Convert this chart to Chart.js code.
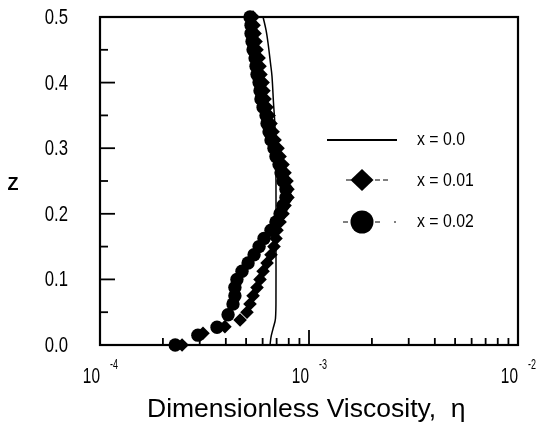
<!DOCTYPE html>
<html>
<head>
<meta charset="utf-8">
<script src="https://cdn.jsdelivr.net/npm/chart.js@4/dist/chart.umd.min.js"></script>
<style>
html,body{margin:0;padding:0;background:#fff;}
canvas{display:block;}
</style>
</head>
<body>
<canvas id="c" width="536" height="429"></canvas>
<script>
// ---- data ----
const seriesLabels = ["x = 0.0", "x = 0.01", "x = 0.02"];
const yTickLabels = ["0.0", "0.1", "0.2", "0.3", "0.4", "0.5"];
const xTickExponents = ["-4", "-3", "-2"];

// x = 0.0 : solid line
const z00 = [0.5, 0.48, 0.46, 0.43, 0.41, 0.37, 0.33, 0.25, 0.15, 0.08, 0.04, 0.025, 0.012, 0.0];
const eta00 = [6.03e-4, 6.23e-4, 6.37e-4, 6.54e-4, 6.65e-4, 6.76e-4, 6.88e-4, 6.95e-4, 6.95e-4, 6.95e-4, 6.91e-4, 6.73e-4, 6.58e-4, 6.51e-4];

// x = 0.01 : diamonds
const z01 = [0.5, 0.4875, 0.475, 0.4625, 0.45, 0.4375, 0.425, 0.4125, 0.4, 0.3875, 0.375, 0.3625, 0.35, 0.3375, 0.325, 0.3125, 0.3, 0.2875, 0.275, 0.2625, 0.25, 0.2375, 0.225, 0.2125, 0.2, 0.1875, 0.175, 0.1625, 0.15, 0.1375, 0.125, 0.1125, 0.1, 0.0875, 0.075, 0.0625, 0.05, 0.038, 0.028, 0.018, 0.0];
const eta01 = [5.40e-4, 5.46e-4, 5.52e-4, 5.58e-4, 5.64e-4, 5.77e-4, 5.83e-4, 5.89e-4, 6.03e-4, 6.09e-4, 6.16e-4, 6.30e-4, 6.44e-4, 6.58e-4, 6.73e-4, 6.88e-4, 7.11e-4, 7.27e-4, 7.51e-4, 7.68e-4, 7.85e-4, 7.93e-4, 7.93e-4, 7.68e-4, 7.51e-4, 7.27e-4, 7.03e-4, 6.95e-4, 6.80e-4, 6.58e-4, 6.30e-4, 6.03e-4, 5.83e-4, 5.64e-4, 5.40e-4, 5.22e-4, 5.05e-4, 4.68e-4, 3.96e-4, 3.11e-4, 2.47e-4];

// x = 0.02 : circles
const z02 = [0.5, 0.4875, 0.475, 0.4625, 0.45, 0.4375, 0.425, 0.4125, 0.4, 0.3875, 0.375, 0.3625, 0.35, 0.3375, 0.325, 0.3125, 0.3, 0.2875, 0.275, 0.2625, 0.25, 0.2375, 0.225, 0.2125, 0.2, 0.1875, 0.175, 0.1625, 0.15, 0.1375, 0.125, 0.1125, 0.1, 0.0875, 0.075, 0.0625, 0.046, 0.027, 0.015, 0.0];
const eta02 = [5.22e-4, 5.28e-4, 5.28e-4, 5.34e-4, 5.40e-4, 5.52e-4, 5.58e-4, 5.64e-4, 5.77e-4, 5.83e-4, 5.89e-4, 6.03e-4, 6.23e-4, 6.30e-4, 6.44e-4, 6.58e-4, 6.80e-4, 6.95e-4, 7.19e-4, 7.35e-4, 7.51e-4, 7.76e-4, 7.76e-4, 7.51e-4, 7.27e-4, 6.95e-4, 6.58e-4, 6.09e-4, 5.77e-4, 5.46e-4, 5.11e-4, 4.78e-4, 4.52e-4, 4.42e-4, 4.42e-4, 4.33e-4, 4.10e-4, 3.63e-4, 2.94e-4, 2.29e-4];

const xTitle = "Dimensionless Viscosity,  η";
const yTitle = "Z";

// ---- build ----
const toPts = (xs, ys) => xs.map((v, i) => ({x: v, y: ys[i]}));

function textScaled(ctx, txt, x, y, font, align, sx) {
  ctx.save();
  ctx.font = font;
  ctx.textBaseline = 'middle';
  ctx.textAlign = align;
  ctx.translate(x, y);
  ctx.scale(sx, 1);
  ctx.fillText(txt, 0, 0);
  ctx.restore();
}

const decor = {
  id: 'decor',
  afterDatasetsDraw(chart) {
    const ctx = chart.ctx;
    const xs = chart.scales.x, ys = chart.scales.y;
    const a = chart.chartArea;
    ctx.save();
    ctx.strokeStyle = '#000';
    ctx.fillStyle = '#000';
    // frame
    ctx.lineWidth = 2.2;
    ctx.strokeRect(a.left, a.top, a.right - a.left, a.bottom - a.top);
    // y ticks (inward)
    ctx.lineWidth = 1.8;
    for (let i = 0; i <= 10; i++) {
      const v = i * 0.05;
      const py = ys.getPixelForValue(v);
      const len = (i % 2 === 0) ? 15 : 8;
      ctx.beginPath(); ctx.moveTo(a.left, py); ctx.lineTo(a.left + len, py); ctx.stroke();
    }
    // x ticks (inward)
    for (let d = -4; d <= -2; d++) {
      for (let m = 1; m <= 9; m++) {
        if (d === -2 && m > 1) break;
        const v = m * Math.pow(10, d);
        const px = xs.getPixelForValue(v);
        const len = (m === 1) ? 15 : 7;
        ctx.beginPath(); ctx.moveTo(px, a.bottom); ctx.lineTo(px, a.bottom - len); ctx.stroke();
      }
    }
    // y tick labels
    yTickLabels.forEach((t) => {
      const py = ys.getPixelForValue(parseFloat(t));
      textScaled(ctx, t, 68, py + 1, '22px "Liberation Sans", Arial, sans-serif', 'right', 0.76);
    });
    // x tick labels: 10^n
    xTickExponents.forEach((e) => {
      const px = xs.getPixelForValue(Math.pow(10, parseInt(e, 10)));
      textScaled(ctx, '10', px, 377, '22px "Liberation Sans", Arial, sans-serif', 'right', 0.7);
      textScaled(ctx, e, px + 10, 365, '15px "Liberation Sans", Arial, sans-serif', 'left', 0.6);
    });
    // axis titles
    ctx.font = 'bold 18px "Liberation Sans", Arial, sans-serif';
    ctx.textAlign = 'center'; ctx.textBaseline = 'middle';
    ctx.fillText(yTitle, 13, 185);
    ctx.font = '26.5px "Liberation Sans", Arial, sans-serif';
    ctx.textAlign = 'left'; ctx.textBaseline = 'alphabetic';
    ctx.fillText(xTitle, 147, 417);

    // legend
    const lf = '18px "Liberation Sans", Arial, sans-serif';
    // x = 0.0
    ctx.lineWidth = 2;
    ctx.beginPath(); ctx.moveTo(327, 140); ctx.lineTo(397, 140); ctx.stroke();
    textScaled(ctx, seriesLabels[0], 417, 140, lf, 'left', 0.88);
    // x = 0.01
    ctx.lineWidth = 1;
    ctx.beginPath(); ctx.moveTo(346, 180); ctx.lineTo(351, 180); ctx.stroke();
    ctx.beginPath(); ctx.moveTo(375, 180); ctx.lineTo(380, 180); ctx.moveTo(383, 180); ctx.lineTo(388, 180); ctx.stroke();
    ctx.beginPath();
    ctx.moveTo(362, 169); ctx.lineTo(373.5, 180); ctx.lineTo(362, 191); ctx.lineTo(350.5, 180); ctx.closePath(); ctx.fill();
    textScaled(ctx, seriesLabels[1], 417, 181, lf, 'left', 0.88);
    // x = 0.02
    ctx.beginPath(); ctx.moveTo(343, 222); ctx.lineTo(348, 222); ctx.stroke();
    ctx.beginPath(); ctx.moveTo(375, 222); ctx.lineTo(380, 222); ctx.stroke();
    ctx.beginPath(); ctx.moveTo(394, 222); ctx.lineTo(396, 222); ctx.stroke();
    ctx.beginPath(); ctx.arc(362, 222, 11.5, 0, Math.PI * 2); ctx.fill();
    textScaled(ctx, seriesLabels[2], 417, 222, lf, 'left', 0.88);
    ctx.restore();
  }
};

new Chart(document.getElementById('c'), {
  type: 'scatter',
  data: {
    datasets: [
      {
        label: seriesLabels[2], data: toPts(eta02, z02), order: 0, clip: false,
        pointStyle: 'circle', pointRadius: 6.7, backgroundColor: '#000', borderColor: '#000', borderWidth: 0, showLine: false
      },
      {
        label: seriesLabels[1], data: toPts(eta01, z01), order: 1, clip: false,
        pointStyle: 'rectRot', pointRadius: 6.8, backgroundColor: '#000', borderColor: '#000', borderWidth: 0, showLine: false
      },
      {
        label: seriesLabels[0], data: toPts(eta00, z00), order: 2, clip: false,
        showLine: true, pointRadius: 0, borderColor: '#000', borderWidth: 1.5, tension: 0.35, fill: false
      }
    ]
  },
  options: {
    responsive: false,
    animation: false,
    devicePixelRatio: 1,
    layout: {padding: {top: 17, right: 18, left: 0, bottom: 0}},
    plugins: {legend: {display: false}, tooltip: {enabled: false}},
    scales: {
      x: {
        type: 'logarithmic', min: 1e-4, max: 1e-2,
        ticks: {display: false}, grid: {display: false}, border: {display: false},
        afterFit(s) { s.height = 84; }
      },
      y: {
        type: 'linear', min: 0, max: 0.5,
        ticks: {display: false}, grid: {display: false}, border: {display: false},
        afterFit(s) { s.width = 100; }
      }
    }
  },
  plugins: [decor]
});
</script>
</body>
</html>
